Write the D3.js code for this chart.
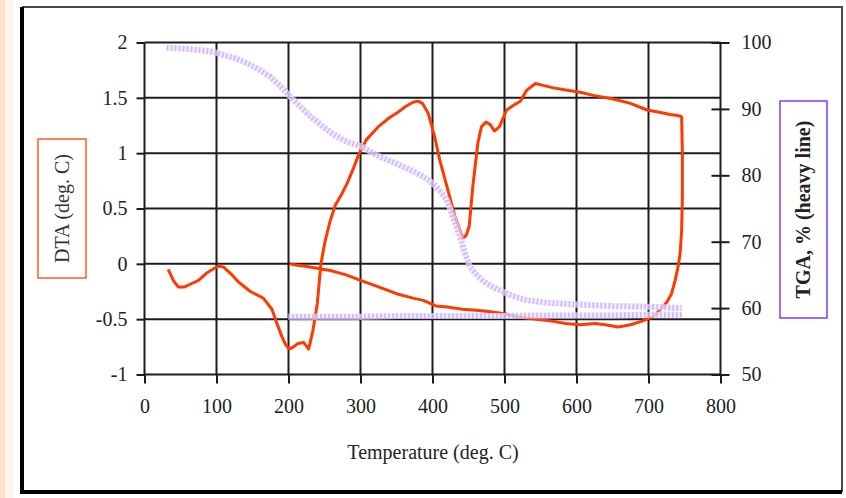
<!DOCTYPE html>
<html>
<head>
<meta charset="utf-8">
<script src="https://cdn.jsdelivr.net/npm/d3@7"></script>
<style>
  html, body { margin: 0; padding: 0; background: #fff; }
  svg { display: block; font-family: "Liberation Serif", "Times New Roman", serif; }
</style>
</head>
<body>
<svg id="chart"></svg>
<script>
// --- data ---
// DTA loop: heating up to ~746 deg C, then cooling back to 200 deg C
const dtaTemp = [33, 40, 47, 55, 65, 75, 87, 97, 103, 110, 120, 130, 147, 165, 177, 184, 191, 196, 201, 207,
  213, 221, 228, 234, 240, 245, 251, 258, 265, 273, 281, 290, 297, 308, 325, 340, 350, 362, 373, 380,
  386, 394, 403, 410, 420, 431, 442, 447, 451, 456, 463, 468, 474, 480, 486, 493, 503, 512, 522, 531,
  543, 555, 568, 585, 605, 625, 651, 675, 698, 715, 730, 740, 746, 747, 747, 746, 744, 741, 737, 732,
  726, 720, 706, 690, 675, 658, 640, 626, 605, 585, 568, 545, 520, 500, 478, 460, 442, 420, 405, 387,
  373, 350, 326, 300, 280, 258, 240, 221, 210, 202];
const dtaValue = [-0.05, -0.15, -0.21, -0.21, -0.18, -0.15, -0.08, -0.04, -0.02, -0.03, -0.09, -0.16, -0.25, -0.31, -0.41, -0.54, -0.66, -0.73, -0.77, -0.75,
  -0.72, -0.71, -0.77, -0.60, -0.36, 0.00, 0.21, 0.39, 0.53, 0.62, 0.72, 0.86, 0.98, 1.12, 1.24, 1.32, 1.36, 1.42, 1.46, 1.47,
  1.45, 1.36, 1.15, 0.94, 0.70, 0.43, 0.23, 0.26, 0.34, 0.70, 1.09, 1.24, 1.28, 1.26, 1.20, 1.24, 1.39, 1.43, 1.47, 1.57,
  1.63, 1.61, 1.59, 1.57, 1.55, 1.52, 1.49, 1.45, 1.39, 1.37, 1.35, 1.34, 1.33, 1.00, 0.60, 0.30, 0.10, -0.03, -0.15, -0.27,
  -0.34, -0.39, -0.48, -0.52, -0.55, -0.57, -0.55, -0.54, -0.55, -0.54, -0.52, -0.50, -0.48, -0.45, -0.43, -0.42, -0.41, -0.39, -0.38, -0.33,
  -0.31, -0.27, -0.21, -0.15, -0.10, -0.06, -0.04, -0.02, -0.01, 0.00];

// TGA (%), heating branch then the flat cooling branch
const tgaHeatTemp = [31, 50, 73, 95, 110, 127, 142, 158, 174, 188, 202, 214, 225, 237, 248, 262, 276, 288, 300, 313,
  327, 343, 359, 373, 387, 396, 405, 412, 420, 429, 438, 445, 452, 463, 475, 489, 503, 517, 531, 560,
  605, 650, 698, 746];
const tgaHeatValue = [99.2, 99.1, 98.9, 98.6, 98.1, 97.6, 96.9, 96.0, 94.9, 93.5, 91.9, 90.6, 89.4, 88.3, 87.3, 86.2, 85.3, 84.8, 84.4, 83.6,
  82.8, 82.1, 81.3, 80.6, 79.8, 79.2, 78.3, 77.4, 76.3, 73.6, 70.8, 68.3, 66.2, 64.8, 63.7, 62.9, 62.2, 61.6, 61.2, 60.8,
  60.5, 60.3, 60.2, 60.0];
const tgaCoolTemp = [746, 700, 650, 600, 550, 500, 450, 400, 350, 300, 250, 200];
const tgaCoolValue = [59.0, 59.0, 58.9, 58.9, 58.9, 58.8, 58.8, 58.8, 58.8, 58.7, 58.7, 58.7];

const xTicks = [0, 100, 200, 300, 400, 500, 600, 700, 800];
const dtaTicks = [-1, -0.5, 0, 0.5, 1, 1.5, 2];
const tgaTicks = [50, 60, 70, 80, 90, 100];

// --- layout ---
const W = 846, H = 498;
const svg = d3.select("#chart").attr("width", W).attr("height", H);

const x = d3.scaleLinear().domain([0, 800]).range([144.5, 720.5]);
const yL = d3.scaleLinear().domain([-1, 2]).range([374.5, 42.5]);
const yR = d3.scaleLinear().domain([50, 100]).range([374.5, 42.5]);

// page strip and frame
svg.append("rect").attr("x", 0).attr("y", 0).attr("width", 5).attr("height", H).attr("fill", "#fde2d2");
svg.append("rect").attr("x", 5).attr("y", 0).attr("width", 8).attr("height", H).attr("fill", "#fff4ee");
svg.append("path")
  .attr("d", "M22,7 L842,7 L842,492")
  .attr("fill", "none").attr("stroke", "#4a4a4a").attr("stroke-width", 2);
svg.append("path")
  .attr("d", "M22,7 L22,492 L842,492")
  .attr("fill", "none").attr("stroke", "#000").attr("stroke-width", 4);

// grid
const grid = svg.append("g").attr("stroke", "#1c1c1c").attr("stroke-width", 2);
grid.selectAll("line.h").data(dtaTicks).join("line")
  .attr("x1", x(0)).attr("x2", x(800))
  .attr("y1", d => yL(d)).attr("y2", d => yL(d));
grid.selectAll("line.v").data(xTicks).join("line")
  .attr("y1", yL(-1)).attr("y2", yL(2))
  .attr("x1", d => x(d)).attr("x2", d => x(d));

function styleAxis(g) {
  g.select(".domain").remove();
  g.selectAll(".tick line").attr("stroke", "#1c1c1c").attr("stroke-width", 2);
  g.selectAll(".tick text").attr("fill", "#222").style("font-size", "20px")
    .style("font-family", "'Liberation Serif', serif");
}

svg.append("g").attr("transform", `translate(${x(0)},0)`)
  .call(d3.axisLeft(yL).tickValues(dtaTicks).tickSize(8).tickPadding(9).tickFormat(d => String(d)))
  .call(styleAxis);

svg.append("g").attr("transform", `translate(0,${yL(-1)})`)
  .call(d3.axisBottom(x).tickValues(xTicks).tickSize(9).tickPadding(15).tickFormat(d => String(d)))
  .call(styleAxis);

const right = svg.append("g").attr("transform", `translate(${x(800)},0)`)
  .call(d3.axisRight(yR).tickValues(tgaTicks).tickSize(9).tickPadding(12).tickFormat(d => String(d)))
  .call(styleAxis);
right.selectAll(".tick line").attr("x1", -9);

// curves
const dtaLine = d3.line().x(d => x(d[0])).y(d => yL(d[1]));
const tgaLine = d3.line().x(d => x(d[0])).y(d => yR(d[1]));

const dtaPts = d3.zip(dtaTemp, dtaValue);
const tgaHeat = d3.zip(tgaHeatTemp, tgaHeatValue);
const tgaCool = d3.zip(tgaCoolTemp, tgaCoolValue);

svg.append("path").datum(dtaPts)
  .attr("d", dtaLine).attr("fill", "none")
  .attr("stroke", "#ff3a00").attr("stroke-width", 3).attr("stroke-linejoin", "round");

// heavy TGA line: pale band with a fine hatch on top
[tgaHeat, tgaCool].forEach(pts => {
  svg.append("path").datum(pts).attr("d", tgaLine).attr("fill", "none")
    .attr("stroke", "#ece3ff").attr("stroke-width", 6).attr("stroke-opacity", 0.75);
  svg.append("path").datum(pts).attr("d", tgaLine).attr("fill", "none")
    .attr("stroke", "#c2a2ff").attr("stroke-width", 6).attr("stroke-dasharray", "1.5,2.5").attr("stroke-opacity", 0.75);
});

// axis titles
svg.append("text").attr("x", 433).attr("y", 459).attr("text-anchor", "middle")
  .style("font-size", "20px").attr("fill", "#222").text("Temperature (deg. C)");

svg.append("rect").attr("x", 38).attr("y", 139).attr("width", 48).attr("height", 139)
  .attr("fill", "#fff").attr("stroke", "#ff5a2a").attr("stroke-width", 1.5);
svg.append("text").attr("transform", "translate(69,208.5) rotate(-90)").attr("text-anchor", "middle")
  .style("font-size", "20px").attr("fill", "#333").text("DTA (deg. C)");

svg.append("rect").attr("x", 780).attr("y", 101).attr("width", 47).attr("height", 217)
  .attr("fill", "#fff").attr("stroke", "#7a3cff").attr("stroke-width", 1.5);
svg.append("text").attr("transform", "translate(810,209.5) rotate(-90)").attr("text-anchor", "middle")
  .style("font-size", "20px").style("font-weight", "bold").attr("fill", "#222").text("TGA, % (heavy line)");
</script>
</body>
</html>
